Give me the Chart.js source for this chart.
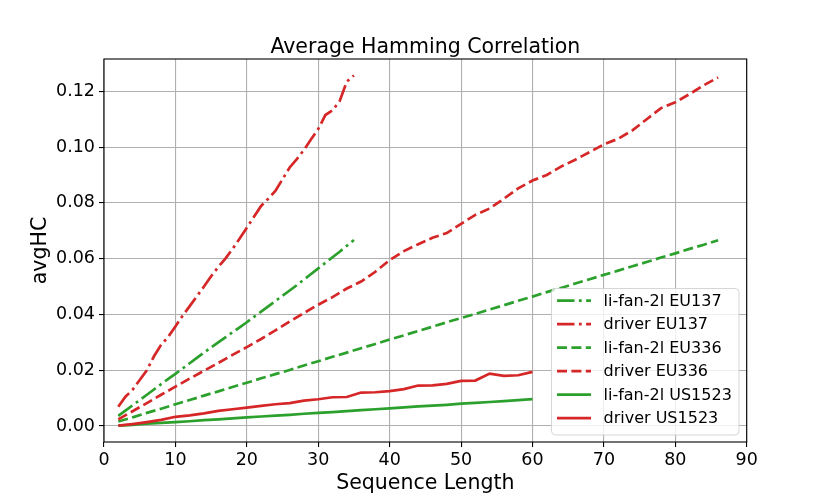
<!DOCTYPE html>
<html>
<head>
<meta charset="utf-8">
<script src="https://cdn.jsdelivr.net/npm/chart.js@4.4.1/dist/chart.umd.min.js"></script>
<style>
  html, body { margin: 0; padding: 0; background: #fff; }
  #wrap { width: 830px; height: 498px; }
</style>
</head>
<body>
<div id="wrap"><canvas id="c" width="830" height="498"></canvas></div>
<script>
// sequence lengths
const xsEU137 = [2,3,4,5,6,7,8,9,10,11,12,13,14,15,16,17,18,19,20,21,22,23,24,25,26,27,28,29,30,31,32,33,34,35];
const xsEU336 = [2,4,6,8,10,12,14,16,18,20,22,24,26,28,30,32,34,36,38,40,42,44,46,48,50,52,54,56,58,60,62,64,66,68,70,72,74,76,78,80,82,84,86];
const xsUS1523 = [2,4,6,8,10,12,14,16,18,20,22,24,26,28,30,32,34,36,38,40,42,44,46,48,50,52,54,56,58,60];

// avgHC values
const lifanEU137 = [0.0036,0.0055,0.0074,0.0093,0.0112,0.0131,0.0150,0.0169,0.0187,0.0206,0.0225,0.0244,0.0263,0.0282,0.0300,0.0318,0.0336,0.0354,0.0372,0.0391,0.0410,0.0429,0.0448,0.0467,0.0486,0.0505,0.0525,0.0545,0.0565,0.0585,0.0605,0.0625,0.0646,0.0667];
const driverEU137 = [0.0069,0.0105,0.0130,0.0165,0.0200,0.0250,0.0291,0.0320,0.0357,0.0395,0.0430,0.0465,0.0500,0.0537,0.0570,0.0600,0.0635,0.0672,0.0711,0.0750,0.0789,0.0815,0.0843,0.0885,0.0927,0.0957,0.0990,0.1028,0.1065,0.1115,0.1132,0.1165,0.1235,0.1257];
const lifanEU336 = [0.0016,0.0031,0.0047,0.0062,0.0078,0.0093,0.0109,0.0124,0.0140,0.0155,0.0171,0.0186,0.0201,0.0217,0.0232,0.0248,0.0263,0.0279,0.0294,0.0310,0.0325,0.0341,0.0356,0.0372,0.0387,0.0402,0.0418,0.0433,0.0449,0.0464,0.0480,0.0495,0.0511,0.0526,0.0542,0.0557,0.0573,0.0588,0.0604,0.0619,0.0635,0.0650,0.0666];
const driverEU336 = [0.0024,0.0053,0.0082,0.0112,0.0141,0.0170,0.0198,0.0226,0.0255,0.0283,0.0312,0.0343,0.0375,0.0405,0.0435,0.0462,0.0493,0.0518,0.0553,0.0595,0.0627,0.0652,0.0675,0.0692,0.0725,0.0757,0.0780,0.0815,0.0852,0.0880,0.0900,0.0930,0.0955,0.0982,0.1010,0.1030,0.1060,0.1100,0.1140,0.1161,0.1190,0.1222,0.1250];
const lifanUS1523 = [0.0001,0.0004,0.0008,0.0011,0.0014,0.0017,0.0021,0.0024,0.0027,0.0031,0.0034,0.0037,0.0040,0.0044,0.0047,0.0050,0.0053,0.0057,0.0060,0.0063,0.0067,0.0070,0.0073,0.0076,0.0080,0.0083,0.0086,0.0089,0.0093,0.0096];
const driverUS1523 = [0.0001,0.0007,0.0014,0.0022,0.0033,0.0038,0.0045,0.0054,0.0060,0.0066,0.0072,0.0078,0.0082,0.0091,0.0096,0.0103,0.0104,0.0120,0.0121,0.0125,0.0132,0.0145,0.0146,0.0151,0.0162,0.0163,0.0188,0.0180,0.0182,0.0194];

const xTicks = [0,10,20,30,40,50,60,70,80,90];
const yTicks = [0.00,0.02,0.04,0.06,0.08,0.10,0.12];

const GREEN = '#2ca02c';
const RED = '#d62728';
const DASHED = [10, 4.4];
const DASHDOT = [17.5, 4.4, 2.8, 4.4];
const FONT = '"DejaVu Sans", sans-serif';

const pts = (xs, ys) => xs.map((x, i) => ({ x: x, y: ys[i] }));

const series = [
  { label: 'li-fan-2l EU137', data: pts(xsEU137, lifanEU137), color: GREEN, dash: DASHDOT },
  { label: 'driver EU137', data: pts(xsEU137, driverEU137), color: RED, dash: DASHDOT },
  { label: 'li-fan-2l EU336', data: pts(xsEU336, lifanEU336), color: GREEN, dash: DASHED },
  { label: 'driver EU336', data: pts(xsEU336, driverEU336), color: RED, dash: DASHED },
  { label: 'li-fan-2l US1523', data: pts(xsUS1523, lifanUS1523), color: GREEN, dash: [] },
  { label: 'driver US1523', data: pts(xsUS1523, driverUS1523), color: RED, dash: [] }
];

const LW = 2.7;

// title, axis labels, frame and legend drawn by hand
const decorations = {
  id: 'decorations',
  afterDraw(chart) {
    const ctx = chart.ctx;
    const a = chart.chartArea;
    ctx.save();

    ctx.strokeStyle = '#000';
    ctx.lineWidth = 1.1;
    ctx.strokeRect(a.left, a.top, a.right - a.left, a.bottom - a.top);

    ctx.fillStyle = '#000';
    ctx.font = '20.5px ' + FONT;
    ctx.textAlign = 'center';
    ctx.textBaseline = 'alphabetic';
    const cx = (a.left + a.right) / 2;
    ctx.fillText('Average Hamming Correlation', cx, 52.5);
    ctx.fillText('Sequence Length', cx, 489);
    ctx.save();
    ctx.translate(46, (a.top + a.bottom) / 2);
    ctx.rotate(-Math.PI / 2);
    ctx.fillText('avgHC', 0, 0);
    ctx.restore();

    // legend box
    const bx = 551.5, by = 288.5, bw = 187.5, bh = 146.5, r = 4;
    ctx.beginPath();
    ctx.moveTo(bx + r, by);
    ctx.arcTo(bx + bw, by, bx + bw, by + bh, r);
    ctx.arcTo(bx + bw, by + bh, bx, by + bh, r);
    ctx.arcTo(bx, by + bh, bx, by, r);
    ctx.arcTo(bx, by, bx + bw, by, r);
    ctx.closePath();
    ctx.fillStyle = 'rgba(255,255,255,0.8)';
    ctx.fill();
    ctx.strokeStyle = 'rgba(204,204,204,0.8)';
    ctx.lineWidth = 1;
    ctx.stroke();

    ctx.font = '16px ' + FONT;
    ctx.textAlign = 'left';
    ctx.textBaseline = 'middle';
    series.forEach((s, i) => {
      const y = 300.7 + i * 23.5;
      ctx.beginPath();
      ctx.setLineDash(s.dash);
      ctx.strokeStyle = s.color;
      ctx.lineWidth = LW;
      ctx.moveTo(557, y);
      ctx.lineTo(591, y);
      ctx.stroke();
      ctx.setLineDash([]);
      ctx.fillStyle = '#000';
      ctx.fillText(s.label, 603.5, y + 1);
    });

    ctx.restore();
  }
};

new Chart(document.getElementById('c'), {
  type: 'line',
  data: {
    datasets: series.map((s, i) => ({
      label: s.label,
      data: s.data,
      borderColor: s.color,
      backgroundColor: s.color,
      borderWidth: LW,
      borderDash: s.dash,
      pointRadius: 0,
      tension: 0,
      fill: false,
      order: series.length - i
    }))
  },
  options: {
    responsive: false,
    animation: false,
    devicePixelRatio: 1,
    layout: { padding: { top: 59, right: 83.3, left: 0, bottom: 0 } },
    plugins: {
      legend: { display: false },
      title: { display: false },
      tooltip: { enabled: false }
    },
    scales: {
      x: {
        type: 'linear',
        min: 0,
        max: 90,
        afterFit: s => { s.height = 56; },
        afterBuildTicks: s => { s.ticks = xTicks.map(v => ({ value: v })); },
        grid: { color: '#b0b0b0', lineWidth: 1.1, tickColor: '#000', tickLength: 5 },
        border: { display: false },
        ticks: {
          color: '#000',
          padding: 3,
          maxRotation: 0,
          font: { family: FONT, size: 17.5 },
          callback: v => String(v)
        }
      },
      y: {
        type: 'linear',
        min: -0.00574,
        max: 0.1316,
        afterFit: s => { s.width = 104; },
        afterBuildTicks: s => { s.ticks = yTicks.map(v => ({ value: v })); },
        grid: { color: '#b0b0b0', lineWidth: 1.1, tickColor: '#000', tickLength: 5 },
        border: { display: false },
        ticks: {
          color: '#000',
          padding: 4,
          font: { family: FONT, size: 17.5 },
          callback: v => v.toFixed(2)
        }
      }
    }
  },
  plugins: [decorations]
});
</script>
</body>
</html>
